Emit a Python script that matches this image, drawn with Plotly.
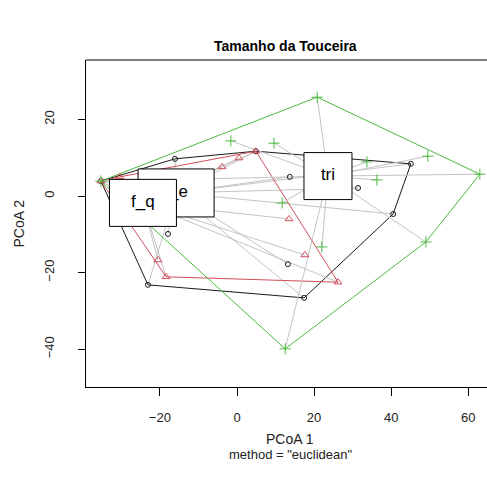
import plotly.graph_objects as go

# ---- text ----
title_text = "Tamanho da Touceira"
x_title = "PCoA 1"
y_title = "PCoA 2"
sub_title = 'method = "euclidean"'
group_labels = ["f_e", "f_q", "tri"]

# ---- data (PCoA scores) ----
black_x = [-35.3, -16.1, 4.9, 13.7, 31.4, 45.1, 40.5, 17.4, 13.2, -23.1, -17.9]
black_y = [3.9, 9.7, 11.7, 5.0, 2.1, 8.4, -4.7, -26.6, -17.8, -23.2, -9.9]
red_x = [-35.3, -30.4, -3.9, 0.5, 4.9, 13.5, 17.6, 26.2, -18.4, -20.5]
red_y = [3.9, 5.0, 7.6, 9.9, 11.7, -6.0, -15.4, -22.5, -21.1, -16.7]
green_x = [-35.3, 20.8, -1.6, 9.6, 49.5, 63.0, 33.7, 36.3, 11.7, 49.0, 22.0, 12.5]
green_y = [3.9, 25.8, 14.4, 13.8, 10.4, 5.7, 8.9, 4.2, -1.8, -12.0, -13.3, -39.9]
centroid_x = [-15.8, -24.4, 23.6]
centroid_y = [0.8, -1.8, 5.2]
x_ticks = [-20, 0, 20, 40, 60]
y_ticks = [-40, -20, 0, 20]

# ---- styles ----
W, H = 487, 483
ML, MR, MT, MB = 86, 0, 60, 96
XR = [-39.17, 64.85]
YR = [-49.87, 35.51]
colors = ["#1a1a1a", "#D24E5C", "#4CB840"]
symbols = ["circle-open", "triangle-up-open", "cross-thin-open"]
msizes = [5, 7, 8]
seg_col = "#C4C4C4"
FONT = "Liberation Sans, Arial, sans-serif"
# label box sizes (pixels)
box_w = [76, 67, 48]
box_h = [48, 47, 47]

px_per_x = (W - ML - MR) / (XR[1] - XR[0])
px_per_y = (H - MT - MB) / (YR[1] - YR[0])

groups = [(black_x, black_y), (red_x, red_y), (green_x, green_y)]


def convex_hull(xs, ys):
    pts = sorted(set(zip(xs, ys)))

    def cross(o, a, b):
        return (a[0] - o[0]) * (b[1] - o[1]) - (a[1] - o[1]) * (b[0] - o[0])

    lower = []
    for p in pts:
        while len(lower) >= 2 and cross(lower[-2], lower[-1], p) <= 0:
            lower.pop()
        lower.append(p)
    upper = []
    for p in reversed(pts):
        while len(upper) >= 2 and cross(upper[-2], upper[-1], p) <= 0:
            upper.pop()
        upper.append(p)
    h = lower[:-1] + upper[:-1]
    h.append(h[0])
    return [p[0] for p in h], [p[1] for p in h]


fig = go.Figure()

for gi, (gx, gy) in enumerate(groups):
    cx, cy = centroid_x[gi], centroid_y[gi]
    sx, sy = [], []
    for x, y in zip(gx, gy):
        sx += [cx, x, None]
        sy += [cy, y, None]
    fig.add_trace(go.Scatter(x=sx, y=sy, mode="lines",
                             line=dict(color=seg_col, width=1),
                             hoverinfo="skip", showlegend=False))
    hx, hy = convex_hull(gx, gy)
    fig.add_trace(go.Scatter(x=hx, y=hy, mode="lines",
                             line=dict(color=colors[gi], width=1),
                             hoverinfo="skip", showlegend=False))
    fig.add_trace(go.Scatter(x=[cx], y=[cy], mode="markers",
                             marker=dict(symbol="circle", size=7, color=colors[gi]),
                             hoverinfo="skip", showlegend=False))

for gi, (gx, gy) in enumerate(groups):
    fig.add_trace(go.Scatter(x=gx, y=gy, mode="markers",
                             marker=dict(symbol=symbols[gi], size=msizes[gi],
                                         color=colors[gi],
                                         line=dict(color=colors[gi], width=1)),
                             showlegend=False))

# labels drawn as white boxes with text (order: f_e, f_q, tri)
for gi in range(3):
    cx, cy = centroid_x[gi], centroid_y[gi]
    hw = box_w[gi] / 2 / px_per_x
    hh = box_h[gi] / 2 / px_per_y
    fig.add_trace(go.Scatter(
        x=[cx - hw, cx + hw, cx + hw, cx - hw, cx - hw],
        y=[cy - hh, cy - hh, cy + hh, cy + hh, cy - hh],
        mode="lines", fill="toself", fillcolor="white",
        line=dict(color="black", width=1),
        hoverinfo="skip", showlegend=False))
    fig.add_trace(go.Scatter(
        x=[cx], y=[cy], mode="text", text=[group_labels[gi]],
        textposition="middle center",
        textfont=dict(family=FONT, size=17, color="black"),
        hoverinfo="skip", showlegend=False))

axis_common = dict(showgrid=False, zeroline=False, showline=True,
                   linecolor="black", linewidth=1, ticks="outside",
                   tickcolor="black", tickwidth=1,
                   tickfont=dict(family=FONT, size=13, color="#222222"))

fig.update_xaxes(range=XR, tickvals=x_ticks, ticklen=8,
                 ticklabelstandoff=10, **axis_common)
fig.update_yaxes(range=YR, tickvals=y_ticks, ticklen=7, tickangle=-90,
                 ticklabelstandoff=19, **axis_common)

# top border of the box
fig.add_shape(type="line", xref="paper", yref="paper", x0=0, x1=1, y0=1, y1=1,
              line=dict(color="black", width=1))

pw = W - ML - MR
fig.add_annotation(text="<b>" + title_text + "</b>", xref="paper", yref="paper",
                   x=(285 - ML) / pw, y=1, yshift=4, xanchor="center", yanchor="bottom",
                   showarrow=False, font=dict(family=FONT, size=14, color="black"))
fig.add_annotation(text=x_title, xref="paper", yref="paper",
                   x=(290 - ML) / pw, y=0, yshift=-42, xanchor="center", yanchor="top",
                   showarrow=False, font=dict(family=FONT, size=14, color="#222222"))
fig.add_annotation(text=sub_title, xref="paper", yref="paper",
                   x=(290 - ML) / pw, y=0, yshift=-58, xanchor="center", yanchor="top",
                   showarrow=False, font=dict(family=FONT, size=13, color="#222222"))
fig.add_annotation(text=y_title, xref="paper", yref="paper",
                   x=0, xshift=-68, y=0.5, xanchor="center", yanchor="middle",
                   textangle=-90,
                   showarrow=False, font=dict(family=FONT, size=14, color="#222222"))

fig.update_layout(width=W, height=H, margin=dict(l=ML, r=MR, t=MT, b=MB),
                  plot_bgcolor="white", paper_bgcolor="white", showlegend=False)

fig.write_html("out.html")
